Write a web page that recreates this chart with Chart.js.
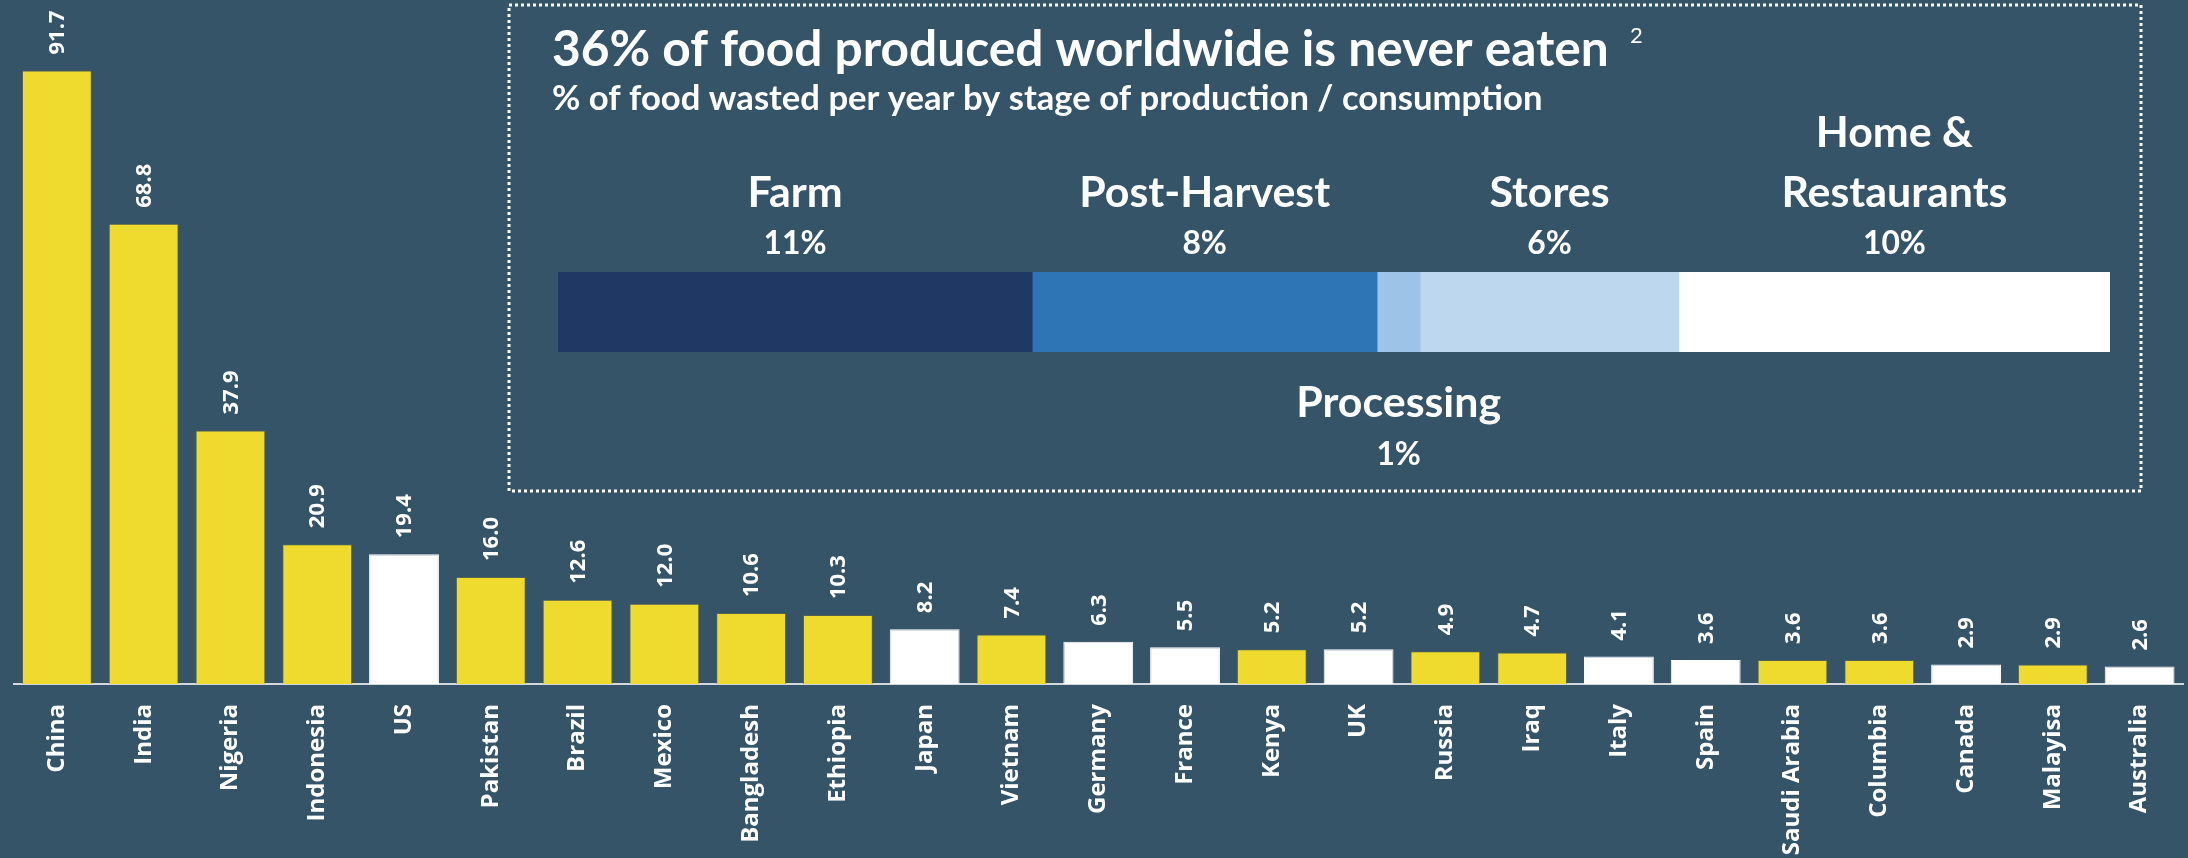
<!DOCTYPE html>
<html>
<head>
<meta charset="utf-8">
<script src="https://cdn.jsdelivr.net/npm/chart.js@4"></script>
<style>
html, body { margin:0; padding:0; background:#355468; }
#wrap { position:relative; width:2188px; height:858px; overflow:hidden; }
#wrap canvas { position:absolute; left:0; top:0; }
#inset { pointer-events:none; }
</style>
</head>
<body>
<div id="wrap">
  <canvas id="grafico" width="2188" height="858"></canvas>
  <canvas id="inset" width="2188" height="858"></canvas>
</div>
<script>
// food waste per country (million tonnes / year)
const countries = ["China","India","Nigeria","Indonesia","US","Pakistan","Brazil","Mexico","Bangladesh","Ethiopia",
  "Japan","Vietnam","Germany","France","Kenya","UK","Russia","Iraq","Italy","Spain","Saudi Arabia","Columbia",
  "Canada","Malayisa","Australia"];
const wasteValues = [91.7,68.8,37.9,20.9,19.4,16.0,12.6,12.0,10.6,10.3,8.2,7.4,6.3,5.5,5.2,5.2,4.9,4.7,4.1,3.6,3.6,3.6,2.9,2.9,2.6];
const highIncome = ["US","Japan","Germany","France","UK","Italy","Spain","Canada","Australia"];

// inset: share of food wasted by stage
const stageNames = [["Farm"],["Post-Harvest"],["Processing"],["Stores"],["Home &","Restaurants"]];
const stageShares = [11,8,1,6,10];
const titleText = "36% of food produced worldwide is never eaten";
const subtitleText = "% of food wasted per year by stage of production / consumption";
const footnote = "2";

const BG = "#355468";
const YELLOW = "#eedb2d";
const stageColors = ["#203864","#2e75b6","#9dc3e6","#bdd7ee","#ffffff"];

// fundo
const fundo = {
  id: "fundo",
  beforeDraw(chart){
    const ctx = chart.ctx;
    ctx.save();
    ctx.fillStyle = BG;
    ctx.fillRect(0,0,chart.width,chart.height);
    ctx.restore();
  }
};

// valores rotacionados acima das barras
const rotulosValores = {
  id: "rotulosValores",
  afterDatasetsDraw(chart){
    const ctx = chart.ctx;
    const meta = chart.getDatasetMeta(0);
    meta.data.forEach((bar,i)=>{
      ctx.save();
      ctx.translate(bar.x, bar.y - 16);
      ctx.rotate(-Math.PI/2);
      ctx.font = 'bold 22px "Open Sans"';
      ctx.fillStyle = "#ffffff";
      ctx.textAlign = "left";
      ctx.textBaseline = "middle";
      ctx.fillText(wasteValues[i].toFixed(1), 0, 1);
      ctx.restore();
    });
  }
};

new Chart(document.getElementById("grafico"), {
  type: "bar",
  data: {
    labels: countries,
    datasets: [{
      data: wasteValues,
      backgroundColor: countries.map(c => highIncome.includes(c) ? "#ffffff" : YELLOW),
      borderColor: countries.map(c => highIncome.includes(c) ? "#ffffff" : "rgba(110,110,70,0.55)"),
      borderWidth: {top:1, left:1, right:1, bottom:0},
      barPercentage: 0.805,
      categoryPercentage: 1
    }]
  },
  options: {
    responsive: false,
    devicePixelRatio: 1,
    animation: false,
    layout: { padding: {left:13.5, right:5, top:15, bottom:0} },
    plugins: { legend:{display:false}, tooltip:{enabled:false} },
    scales: {
      x: {
        grid: { display:false, drawTicks:false },
        border: { display:true, color:"#d3d8dc", width:2 },
        ticks: {
          color: "#ffffff",
          font: { family:"Open Sans", weight:"bold", size:24 },
          minRotation: 90, maxRotation: 90,
          padding: 20,
          autoSkip: false
        },
        afterFit(scale){
          scale.height = 174;
          scale.paddingLeft = 0;
          scale.paddingRight = 0;
        }
      },
      y: { display:false, min:0, max:100 }
    }
  },
  plugins: [fundo, rotulosValores]
});

// ajusta tamanho da fonte para uma largura alvo
function tamanhoFonte(ctx, texto, largura, peso, familia){
  ctx.font = `${peso} 100px ${familia}`;
  return 100 * largura / ctx.measureText(texto).width;
}

const textosInset = {
  id: "textosInset",
  afterDraw(chart){
    const ctx = chart.ctx;
    ctx.save();

    // caixa pontilhada
    ctx.strokeStyle = "#ffffff";
    ctx.lineWidth = 3;
    ctx.setLineDash([3,3]);
    ctx.strokeRect(509, 5, 1632, 486);
    ctx.setLineDash([]);

    ctx.fillStyle = "#ffffff";
    ctx.textAlign = "left";
    ctx.textBaseline = "alphabetic";

    let s = tamanhoFonte(ctx, titleText, 1057, "bold", "Lato");
    ctx.font = `bold ${s}px Lato`;
    ctx.fillText(titleText, 552, 66);

    ctx.font = "22px Lato";
    ctx.fillText(footnote, 1630, 43);

    s = tamanhoFonte(ctx, subtitleText, 991, "bold", "Lato");
    ctx.font = `bold ${s}px Lato`;
    ctx.fillText(subtitleText, 552, 110);

    // nomes e percentuais das etapas
    const sNome = tamanhoFonte(ctx, stageNames[1][0], 251, "bold", "Lato");
    const sPct = tamanhoFonte(ctx, stageShares[0] + "%", 63, "bold", "Lato");
    ctx.textAlign = "center";
    stageNames.forEach((linhas,i)=>{
      const el = chart.getDatasetMeta(i).data[0];
      const cx = (el.x + el.base) / 2;
      const w = Math.abs(el.x - el.base);
      let yNome = 207, yPct = 254;
      if(w < 100){ yNome = 417; yPct = 465; }
      ctx.font = `bold ${sNome}px Lato`;
      linhas.forEach((l,k)=>{
        ctx.fillText(l, cx, yNome - 60*(linhas.length-1-k));
      });
      ctx.font = `bold ${sPct}px Lato`;
      ctx.fillText(stageShares[i] + "%", cx, yPct);
    });

    ctx.restore();
  }
};

const totalShare = stageShares.reduce((a,b)=>a+b,0);

new Chart(document.getElementById("inset"), {
  type: "bar",
  data: {
    labels: ["share"],
    datasets: stageNames.map((n,i)=>({
      label: n.join(" "),
      data: [stageShares[i]],
      backgroundColor: stageColors[i],
      borderWidth: 0,
      barPercentage: 1,
      categoryPercentage: 1
    }))
  },
  options: {
    indexAxis: "y",
    responsive: false,
    devicePixelRatio: 1,
    animation: false,
    layout: { padding: {left:558, right:78, top:272, bottom:506} },
    plugins: { legend:{display:false}, tooltip:{enabled:false} },
    scales: {
      x: { stacked:true, display:false, min:0, max:totalShare },
      y: { stacked:true, display:false }
    }
  },
  plugins: [textosInset]
});
</script>
</body>
</html>
